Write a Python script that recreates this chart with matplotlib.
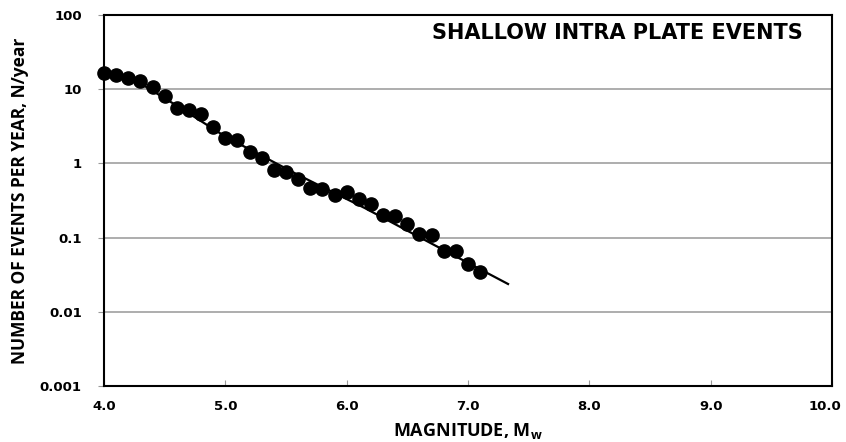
import numpy as np
import matplotlib
matplotlib.use('Agg')
import matplotlib.pyplot as plt
import matplotlib.transforms as mtransforms
from matplotlib.ticker import FixedLocator, FixedFormatter, NullLocator

# observed annual rates
mag = [4.0, 4.1, 4.2, 4.3, 4.4, 4.5, 4.6, 4.7, 4.8, 4.9,
       5.0, 5.1, 5.2, 5.3, 5.4, 5.5, 5.6, 5.7, 5.8, 5.9,
       6.0, 6.1, 6.2, 6.3, 6.4, 6.5, 6.6, 6.7, 6.8, 6.9,
       7.0, 7.1]
rate = [16.5, 15.6, 14.0, 12.8, 10.7, 8.2, 5.6, 5.3, 4.7, 3.1,
        2.2, 2.05, 1.42, 1.17, 0.81, 0.77, 0.62, 0.47, 0.45, 0.38,
        0.41, 0.33, 0.28, 0.20, 0.197, 0.152, 0.111, 0.110, 0.067, 0.066,
        0.044, 0.034]

# fitted recurrence line
fit_mag = [4.2, 4.6, 5.0, 5.6, 6.15, 6.7, 7.33]
fit_rate = [15.1, 6.0, 2.3, 0.70, 0.25, 0.083, 0.0237]

yticks = [0.001, 0.01, 0.1, 1, 10, 100]
ylabels = ['0.001', '0.01', '0.1', '1', '10', '100']
xticks = [4, 5, 6, 7, 8, 9, 10]
xlabels = ['4.0', '5.0', '6.0', '7.0', '8.0', '9.0', '10.0']

fig = plt.figure(figsize=(8.46, 4.42), dpi=100)
ax = fig.add_axes([0.1229, 0.1267, 0.8606, 0.8393])

ax.plot(fit_mag, fit_rate, color='black', lw=1.6, zorder=3)
ax.plot(mag, rate, 'o', color='black', ms=9.5, zorder=4, clip_on=False)

ax.set_yscale('log')
ax.set_xlim(4, 10)
ax.set_ylim(0.001, 100)
ax.yaxis.set_major_locator(FixedLocator(yticks))
ax.yaxis.set_major_formatter(FixedFormatter(ylabels))
ax.yaxis.set_minor_locator(NullLocator())
ax.set_xticks(xticks)
ax.set_xticklabels(xlabels)

ax.tick_params(axis='x', direction='in', length=4, color='#999999', pad=10)
ax.tick_params(axis='y', direction='out', length=4, color='#999999', pad=12)

for t in ax.get_xticklabels() + ax.get_yticklabels():
    t.set_fontfamily('DejaVu Sans')
    t.set_fontweight('bold')
    t.set_fontsize(9.5)

# keep the last x label inside the figure, like the original
last = ax.get_xticklabels()[-1]
last.set_transform(last.get_transform() +
                   mtransforms.ScaledTranslation(-0.07, 0, fig.dpi_scale_trans))

ax.grid(axis='y', color='#a0a0a0', lw=1.2)
ax.set_axisbelow(True)
for s in ax.spines.values():
    s.set_linewidth(1.5)
    s.set_color('black')

ax.set_xlabel('MAGNITUDE, M$_\\mathregular{w}$', fontfamily='Open Sans', fontweight='bold',
              fontsize=13, labelpad=6)
ax.set_ylabel('NUMBER OF EVENTS PER YEAR, N/year', fontfamily='Open Sans',
              fontweight='bold', fontsize=12.5, labelpad=8)

ax.text(0.96, 0.951, 'SHALLOW INTRA PLATE EVENTS', transform=ax.transAxes,
        ha='right', va='center', fontfamily='DejaVu Sans', fontweight='bold', fontsize=15)

fig.savefig('out.png', dpi=100)
